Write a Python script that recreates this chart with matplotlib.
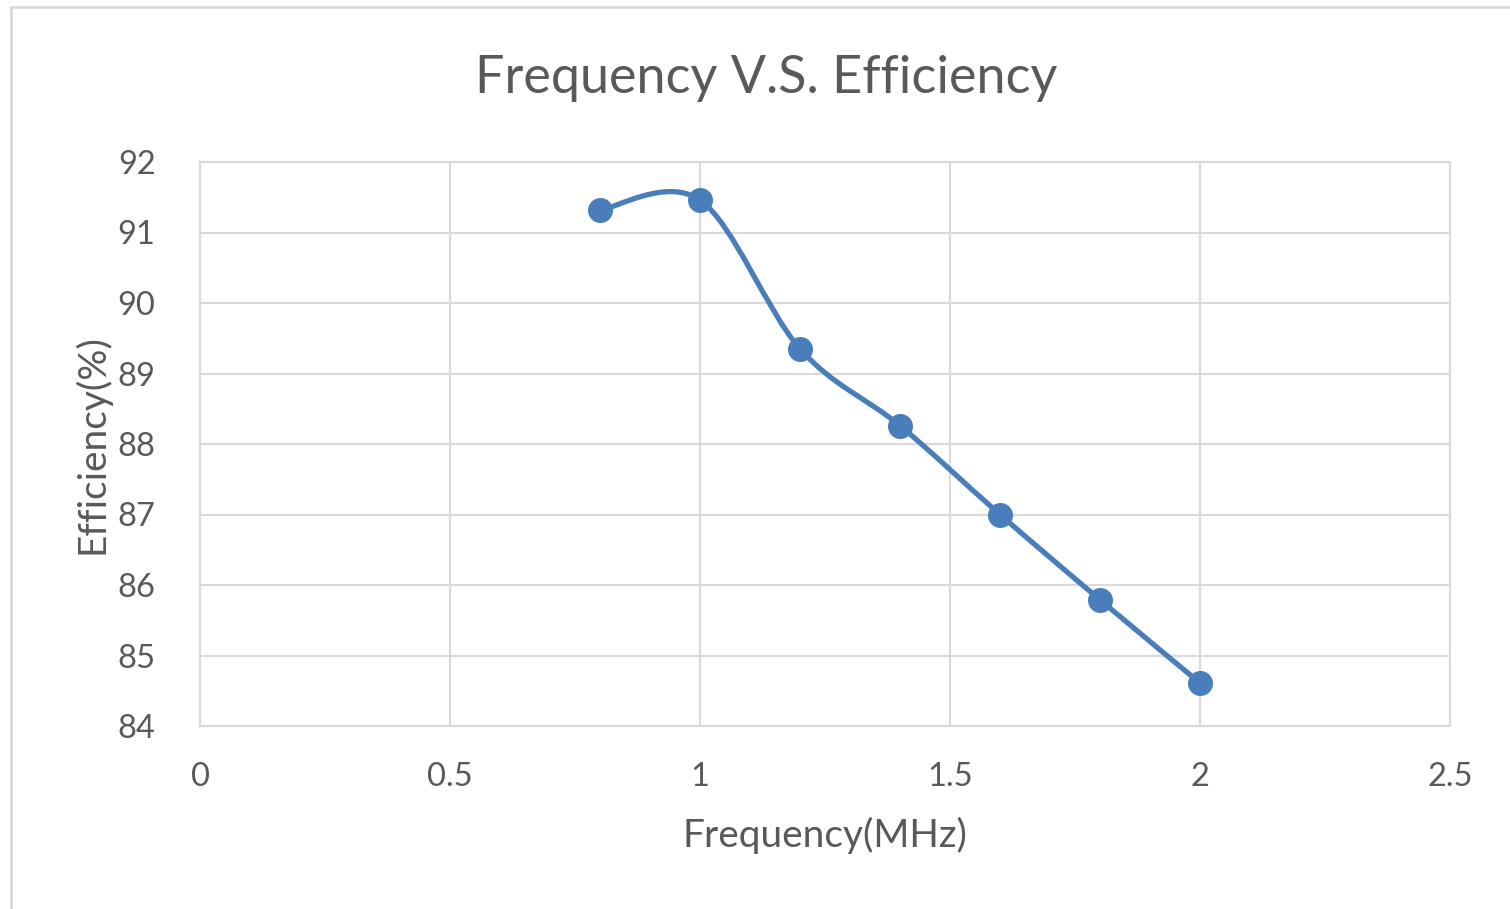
import numpy as np
from matplotlib import pyplot as plt
from matplotlib.patches import Rectangle
from matplotlib.path import Path
from matplotlib.patches import PathPatch

frequency = [0.8, 1.0, 1.2, 1.4, 1.6, 1.8, 2.0]
efficiency = [91.32, 91.46, 89.35, 88.26, 87.0, 85.79, 84.61]

x_ticks = [0, 0.5, 1, 1.5, 2, 2.5]
x_tick_labels = ['0', '0.5', '1', '1.5', '2', '2.5']
y_ticks = [84, 85, 86, 87, 88, 89, 90, 91, 92]

text_color = '#595959'
grid_color = '#d9d9d9'
line_color = '#4a7ebb'

plt.rcParams['font.family'] = ['Lato', 'DejaVu Sans']


def smooth_path(ax, xs, ys):
    # Excel-style smoothing: Catmull-Rom bezier built in screen space
    pts = ax.transData.transform(np.column_stack([xs, ys]))
    padded = np.vstack([pts[0], pts, pts[-1]])
    verts = [pts[0]]
    codes = [Path.MOVETO]
    for i in range(1, len(padded) - 2):
        p0, p1, p2, p3 = padded[i - 1], padded[i], padded[i + 1], padded[i + 2]
        c1 = p1 + (p2 - p0) / 6
        c2 = p2 - (p3 - p1) / 6
        verts += [c1, c2, p2]
        codes += [Path.CURVE4] * 3
    verts = ax.transData.inverted().transform(np.array(verts))
    return Path(verts, codes)


fig = plt.figure(figsize=(15.1, 9.09), dpi=100)
fig.patches.append(Rectangle((11 / 1510, -0.05), 1.2, 1 - 7 / 909 + 0.05,
                             transform=fig.transFigure, fill=False,
                             edgecolor='#d9d9d9', linewidth=2))

ax = fig.add_axes([200 / 1510, 1 - 726 / 909, 1250 / 1510, 564 / 909])
ax.set_xlim(0, 2.5)
ax.set_ylim(84, 92)
ax.set_xticks(x_ticks)
ax.set_xticklabels(x_tick_labels)
ax.set_yticks(y_ticks)
ax.grid(True, color=grid_color, linewidth=1.5)
ax.set_axisbelow(True)
for side in ['top', 'right', 'left', 'bottom']:
    ax.spines[side].set_color(grid_color)
    ax.spines[side].set_linewidth(1.5)
ax.tick_params(length=0, labelsize=23.5, labelcolor=text_color)
ax.tick_params(axis='x', pad=26)
ax.tick_params(axis='y', pad=32)

ax.add_patch(PathPatch(smooth_path(ax, frequency, efficiency), fill=False,
                       edgecolor=line_color, linewidth=3.8, capstyle='round'))
ax.plot(frequency, efficiency, linestyle='none', marker='o', markersize=17,
        color=line_color, zorder=3)

fig.text(766 / 1510, 1 - 78 / 909, 'Frequency V.S. Efficiency', ha='center',
         va='center', fontsize=37.5, color=text_color)
ax.set_xlabel('Frequency(MHz)', fontsize=28, color=text_color, labelpad=18)
ax.set_ylabel('Efficiency(%)', fontsize=28, color=text_color, labelpad=5)

fig.savefig('out.png', dpi=100)
